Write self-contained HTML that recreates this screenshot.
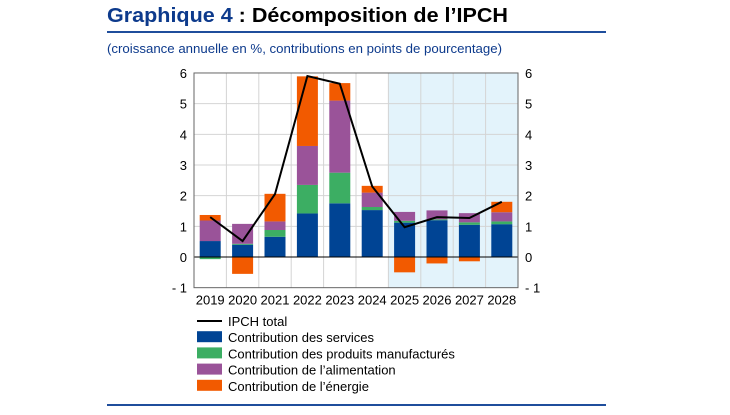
<!DOCTYPE html>
<html><head><meta charset="utf-8"><style>
body{margin:0;width:730px;height:410px;background:#fff;overflow:hidden;font-family:"Liberation Sans",sans-serif}
</style></head><body>
<svg id="s" width="730" height="410" xmlns="http://www.w3.org/2000/svg" font-family="Liberation Sans, sans-serif">
<text x="107" y="22" font-size="20.5" font-weight="bold" fill="#0d3a8c" textLength="401" lengthAdjust="spacingAndGlyphs">Graphique 4 <tspan fill="#000">: Décomposition de l’IPCH</tspan></text>
<rect x="107" y="31" width="499" height="2" fill="#1f4e9c"/>
<text x="107" y="53" font-size="13" fill="#0d3a8c" textLength="395" lengthAdjust="spacingAndGlyphs">(croissance annuelle en %, contributions en points de pourcentage)</text>
<rect x="107" y="404" width="499" height="2" fill="#1f4e9c"/>
<g id="c"></g>
</svg>
<script>
const L=194,R=518,Y0=257,U=30.67,cw=32.4,bw=21;
const d=[[0.52,-0.07,0.67,0.18,1.3],[0.4,0.03,0.65,-0.55,0.52],[0.66,0.22,0.28,0.9,2.05],[1.42,0.93,1.27,2.27,5.9],[1.75,1.0,2.35,0.57,5.65],[1.53,0.1,0.47,0.22,2.3],[1.12,0.06,0.29,-0.5,0.97],[1.2,0.03,0.29,-0.21,1.3],[1.05,0.08,0.3,-0.14,1.27],[1.07,0.09,0.3,0.34,1.8]];
const col=["#004494","#3cae63","#9a5399","#f25a00"];
let h='';
h+=`<rect x="${L+6*cw}" y="${Y0-6*U}" width="${R-L-6*cw}" height="${7*U}" fill="#e3f3fb"/>`;
for(let i=1;i<10;i++)h+=`<line x1="${L+i*cw}" x2="${L+i*cw}" y1="${Y0-6*U}" y2="${Y0+U}" stroke="#d4d4d4" stroke-width="1"/>`;
for(let v=-1;v<=6;v++){let y=Y0-v*U;if(v>-1&&v<6)h+=`<line x1="${L}" x2="${R}" y1="${y}" y2="${y}" stroke="#d4d4d4"/>`;
let t=v<0?"- 1":v;h+=`<text x="${L-7}" y="${y+5}" font-size="13" text-anchor="end">${t}</text><text x="${R+7}" y="${y+5}" font-size="13">${t}</text>`;}
let pts=[];
d.forEach((r,i)=>{let x=L+i*cw+(cw-bw)/2,p=0,n=0;
for(let k=0;k<4;k++){let v=r[k];if(v>=0){h+=`<rect x="${x}" y="${Y0-(p+v)*U}" width="${bw}" height="${v*U}" fill="${col[k]}"/>`;p+=v}else{h+=`<rect x="${x}" y="${Y0-n*U}" width="${bw}" height="${-v*U}" fill="${col[k]}"/>`;n+=v}}
pts.push(`${L+i*cw+cw/2},${Y0-r[4]*U}`);
h+=`<text x="${L+i*cw+cw/2}" y="${Y0+U+17}" font-size="13" text-anchor="middle">${2019+i}</text>`;});
h+=`<line x1="${L}" x2="${R}" y1="${Y0}" y2="${Y0}" stroke="#000"/>`;
h+=`<rect x="${L}" y="${Y0-6*U}" width="${R-L}" height="${7*U}" fill="none" stroke="#666" stroke-width="1"/>`;
h+=`<polyline points="${pts.join(' ')}" fill="none" stroke="#000" stroke-width="2"/>`;
const lg=[["IPCH total",null],["Contribution des services",col[0]],["Contribution des produits manufacturés",col[1]],["Contribution de l’alimentation",col[2]],["Contribution de l’énergie",col[3]]];
lg.forEach((g,i)=>{let y=321+i*16.2;
if(g[1])h+=`<rect x="197" y="${y-6}" width="25" height="11" fill="${g[1]}"/>`;else h+=`<line x1="197" x2="222" y1="${y}" y2="${y}" stroke="#000" stroke-width="2"/>`;
h+=`<text x="228" y="${y+5}" font-size="13">${g[0]}</text>`;});
document.getElementById('c').innerHTML=h;
</script>
</body></html>
